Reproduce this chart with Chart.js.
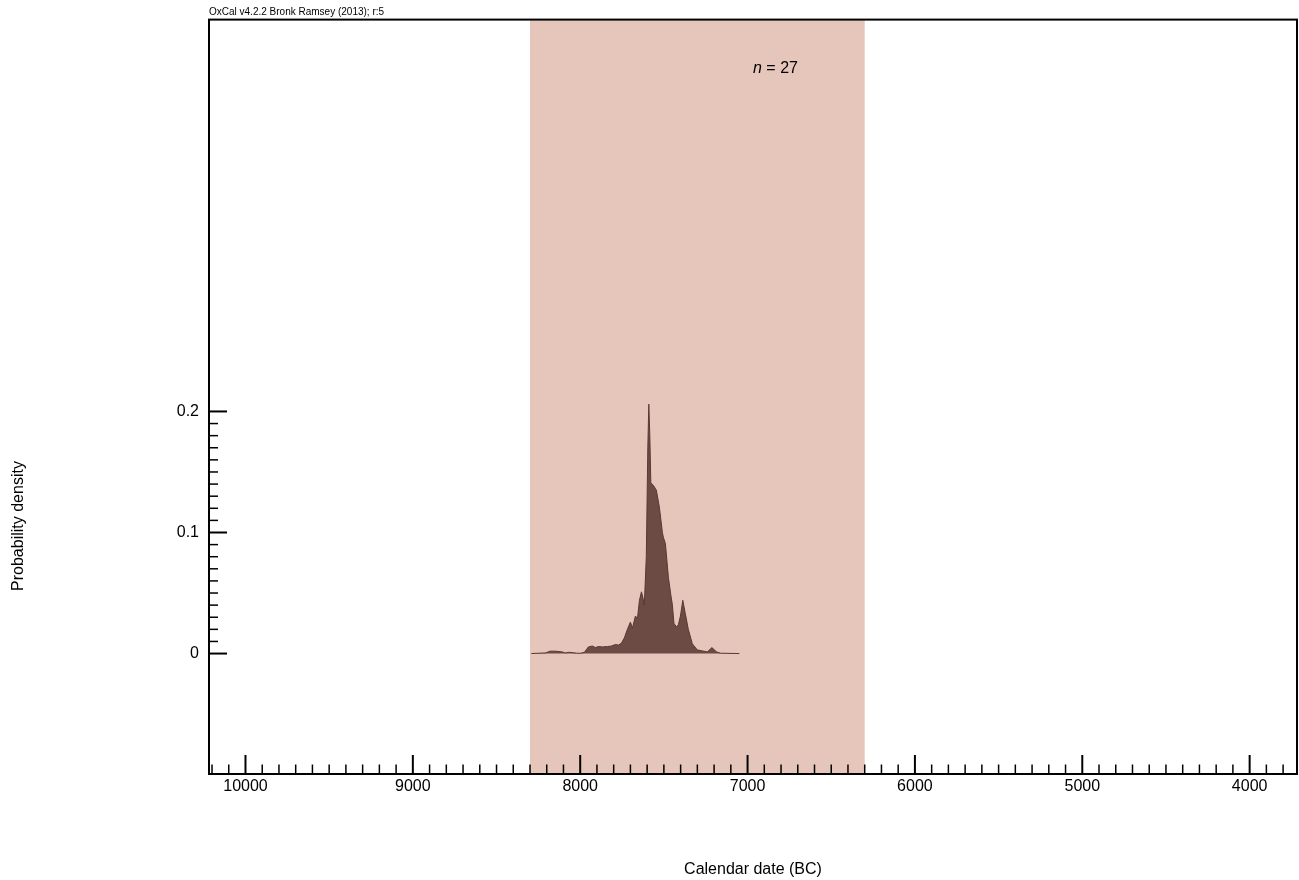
<!DOCTYPE html>
<html>
<head>
<meta charset="utf-8">
<script src="https://cdn.jsdelivr.net/npm/chart.js@4/dist/chart.umd.min.js"></script>
<style>
  html, body { margin: 0; padding: 0; background: #fff; }
  #caixa { width: 1299px; height: 880px; }
</style>
</head>
<body>
<div id="caixa"><canvas id="grafico"></canvas></div>
<script>
// dados (anos cal BC e densidade de probabilidade)
const anosBC = [8292, 8208, 8178, 8142, 8106, 8088, 8071, 8047, 8023, 7999, 7975, 7951, 7927, 7909, 7891, 7867,
  7837, 7814, 7790, 7772, 7754, 7736, 7718, 7700, 7688, 7670, 7658, 7646, 7634, 7625, 7617, 7605, 7596, 7590,
  7584, 7578, 7563, 7545, 7527, 7509, 7503, 7491, 7473, 7458, 7449, 7440, 7425, 7413, 7401, 7387, 7372, 7354,
  7330, 7300, 7270, 7240, 7213, 7186, 7162, 7049];
const densidade = [0, 0.0005, 0.002, 0.0019, 0.0013, 0.0005, 0.001, 0.0008, 0.0003, 0.0002, 0.001, 0.0055, 0.0062,
  0.005, 0.0058, 0.0055, 0.0058, 0.0062, 0.0075, 0.007, 0.0085, 0.013, 0.02, 0.026, 0.021, 0.031, 0.029, 0.044,
  0.051, 0.046, 0.040, 0.08, 0.17, 0.206, 0.18, 0.141, 0.139, 0.135, 0.121, 0.100, 0.096, 0.091, 0.063, 0.048,
  0.040, 0.025, 0.022, 0.024, 0.031, 0.044, 0.033, 0.020, 0.008, 0.003, 0.0022, 0.0014, 0.0049, 0.0014, 0.0003, 0];

const faixaCalibrada = [8300, 6300];
const rotulosAnos = [10000, 9000, 8000, 7000, 6000, 5000, 4000];
const rotulosDensidade = [0, 0.1, 0.2];
const limitesAnos = [3717, 10218];
const limitesDensidade = [-0.0995, 0.5237];
const textoModelo = 'OxCal v4.2.2 Bronk Ramsey (2013); r:5';
const totalDatas = 27;

const fonte = '"Liberation Sans", Arial, Helvetica, sans-serif';

// faixa sombreada, moldura, marcas internas e textos
const pluginMoldura = {
  id: 'moldura',
  beforeDatasetsDraw(chart) {
    const { ctx, chartArea, scales } = chart;
    const x1 = scales.x.getPixelForValue(faixaCalibrada[0]);
    const x2 = scales.x.getPixelForValue(faixaCalibrada[1]);
    ctx.save();
    ctx.fillStyle = '#e6c6ba';
    ctx.fillRect(Math.min(x1, x2), chartArea.top, Math.abs(x2 - x1), chartArea.bottom - chartArea.top);
    ctx.restore();
  },
  afterDatasetsDraw(chart) {
    const { ctx, chartArea, scales } = chart;
    ctx.save();
    ctx.strokeStyle = '#000';
    // marcas do eixo x a cada 100 anos
    for (let i = 38; i <= 102; i++) {
      const px = scales.x.getPixelForValue(i * 100);
      const maior = i % 10 === 0;
      ctx.lineWidth = maior ? 2 : 1.5;
      ctx.beginPath();
      ctx.moveTo(px, chartArea.bottom);
      ctx.lineTo(px, chartArea.bottom - (maior ? 19 : 9.5));
      ctx.stroke();
    }
    // marcas do eixo y a cada 0.01
    for (let i = 0; i <= 20; i++) {
      const py = scales.y.getPixelForValue(i / 100);
      const maior = i % 10 === 0;
      ctx.lineWidth = maior ? 2 : 1.5;
      ctx.beginPath();
      ctx.moveTo(chartArea.left, py);
      ctx.lineTo(chartArea.left + (maior ? 18 : 9), py);
      ctx.stroke();
    }
    ctx.lineWidth = 2;
    ctx.strokeRect(chartArea.left, chartArea.top, chartArea.right - chartArea.left, chartArea.bottom - chartArea.top);
    ctx.restore();
  },
  afterDraw(chart) {
    const { ctx, chartArea } = chart;
    ctx.save();
    ctx.fillStyle = '#000';
    ctx.textBaseline = 'alphabetic';

    ctx.font = '10px ' + fonte;
    ctx.textAlign = 'left';
    ctx.fillText(textoModelo, chartArea.left, 15);

    ctx.font = 'italic 16px ' + fonte;
    ctx.fillText('n', 753, 73);
    const largN = ctx.measureText('n').width;
    ctx.font = '16px ' + fonte;
    ctx.fillText(' = ' + totalDatas, 753 + largN, 73);

    ctx.font = '16px ' + fonte;
    ctx.textAlign = 'center';
    ctx.fillText('Calendar date (BC)', (chartArea.left + chartArea.right) / 2, 874);

    ctx.translate(19, 526);
    ctx.rotate(-Math.PI / 2);
    ctx.textBaseline = 'middle';
    ctx.fillText('Probability density', 0, 0);
    ctx.restore();
  }
};

new Chart(document.getElementById('grafico'), {
  type: 'line',
  data: {
    datasets: [{
      data: anosBC.map((ano, i) => ({ x: ano, y: densidade[i] })),
      fill: 'origin',
      backgroundColor: '#6b4b44',
      borderColor: '#573a34',
      borderWidth: 1,
      pointRadius: 0,
      tension: 0,
    }],
  },
  options: {
    responsive: true,
    maintainAspectRatio: false,
    animation: false,
    layout: { padding: { top: 18, right: 2, left: 0, bottom: 0 } },
    plugins: { legend: { display: false }, tooltip: { enabled: false } },
    scales: {
      x: {
        type: 'linear',
        reverse: true,
        min: limitesAnos[0],
        max: limitesAnos[1],
        grid: { display: false, drawTicks: false },
        border: { display: false },
        afterBuildTicks: (s) => { s.ticks = rotulosAnos.map(v => ({ value: v })); },
        afterFit: (s) => { s.height = 106; },
        ticks: {
          autoSkip: false,
          maxRotation: 0,
          padding: 3,
          color: '#000',
          font: { family: fonte, size: 16 },
          callback: (v) => String(v),
        },
      },
      y: {
        type: 'linear',
        min: limitesDensidade[0],
        max: limitesDensidade[1],
        grid: { display: false, drawTicks: false },
        border: { display: false },
        afterBuildTicks: (s) => { s.ticks = rotulosDensidade.map(v => ({ value: v })); },
        afterFit: (s) => { s.width = 209; },
        ticks: {
          padding: 10,
          color: '#000',
          font: { family: fonte, size: 16 },
          callback: (v) => String(v),
        },
      },
    },
  },
  plugins: [pluginMoldura],
});
</script>
</body>
</html>
